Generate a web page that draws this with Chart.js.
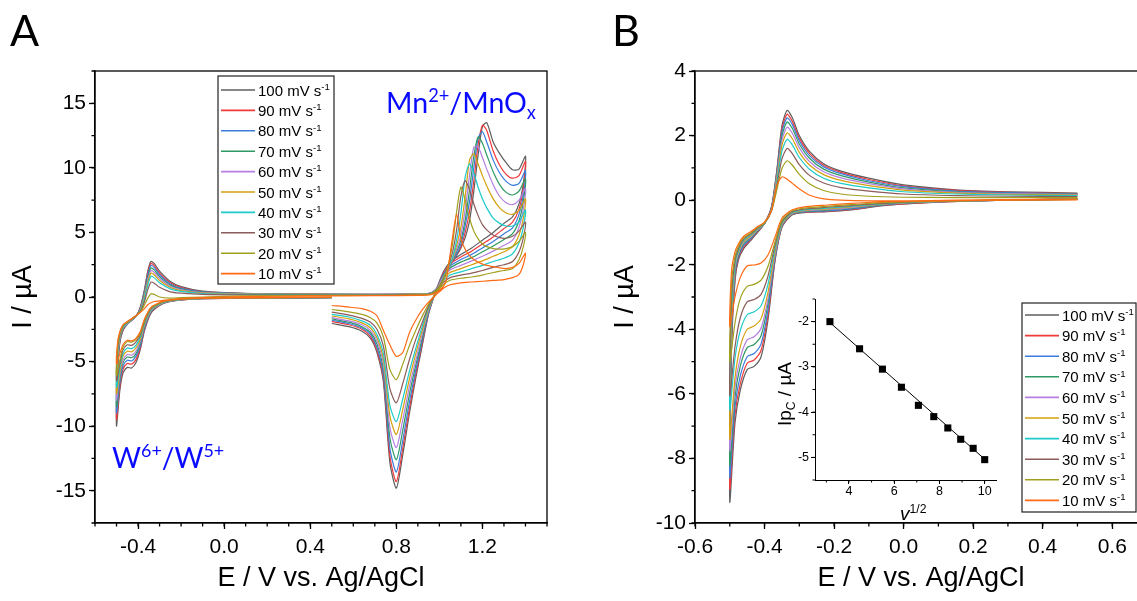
<!DOCTYPE html>
<html>
<head>
<meta charset="utf-8">
<script src="https://cdn.jsdelivr.net/npm/chart.js@4.4.1/dist/chart.umd.min.js"></script>
<style>
  html, body { margin: 0; padding: 0; background: #fff; overflow: hidden; width: 1137px; height: 601px; }
  canvas { position: absolute; }
  #cvA { left: 0; top: 0; }
  #cvB { left: 600px; top: 0; }
  #inset { left: 740px; top: 280px; }
</style>
</head>
<body>
<canvas id="cvA" width="575" height="601"></canvas>
<canvas id="cvB" width="560" height="601"></canvas>
<canvas id="inset" width="270" height="260"></canvas>
<script>
// ── CV data ──
const rates = [100, 90, 80, 70, 60, 50, 40, 30, 20, 10];
const lineColors = ['#5e5e5e', '#f03a3a', '#3a7ddc', '#2f9963', '#b47fe0', '#d4a00c', '#1ccaca', '#8c5b5b', '#a0a01e', '#ff6a14'];

// Panel A: 0.5 V -> -0.5 V -> 1.4 V -> 0.5 V
const potA = [
  0.5, 0.2, -0.1, -0.2, -0.26, -0.3, -0.34, -0.37, -0.39, -0.41, -0.43, -0.45, -0.47, -0.485, -0.5,
  -0.495, -0.485, -0.47, -0.45, -0.43, -0.41, -0.39, -0.37, -0.355, -0.34, -0.325, -0.3, -0.25, -0.2, -0.1, 0.1, 0.4, 0.7, 0.9, 0.96,
  1.0, 1.03, 1.06, 1.08, 1.1, 1.12, 1.14, 1.16, 1.18, 1.2, 1.22, 1.25, 1.28, 1.31, 1.34, 1.37, 1.4,
  1.39, 1.37, 1.34, 1.3, 1.25, 1.2, 1.15, 1.1, 1.05, 1.02, 1.0, 0.98, 0.95, 0.92, 0.89, 0.86, 0.83, 0.8, 0.77, 0.74, 0.71, 0.68, 0.64, 0.58, 0.5
];
const iA100 = [
  -0.05, -0.08, -0.12, -0.22, -0.38, -0.65, -1.25, -2.6, -4.1, -5.1, -5.5, -5.45, -5.9, -7.3, -10.0,
  -6.0, -3.6, -2.6, -2.1, -1.8, -1.5, -0.8, 0.6, 2.0, 2.75, 2.6, 2.0, 1.2, 0.8, 0.45, 0.28, 0.22, 0.2, 0.24, 0.3,
  0.9, 1.9, 2.7, 3.2, 3.8, 4.6, 5.9, 8.2, 11.0, 13.2, 13.5, 12.0, 11.1, 10.4, 9.85, 9.9, 10.9,
  8.8, 7.2, 6.2, 5.7, 5.0, 4.4, 3.8, 3.3, 2.7, 2.0, 1.2, 0.3, -1.3, -3.8, -6.3, -9.1, -12.2, -14.8, -12.8, -6.6, -4.3, -3.2, -2.65, -2.3, -2.05
];
const iA90 = [
  -0.05, -0.08, -0.12, -0.22, -0.37, -0.63, -1.2, -2.5, -3.95, -4.85, -5.2, -5.15, -5.6, -7.0, -9.5,
  -5.7, -3.5, -2.55, -2.1, -1.8, -1.5, -0.85, 0.5, 1.85, 2.6, 2.45, 1.85, 1.1, 0.73, 0.42, 0.27, 0.22, 0.2, 0.24, 0.3,
  0.9, 1.9, 2.7, 3.25, 3.9, 5.0, 6.6, 9.0, 11.8, 13.3, 12.9, 11.3, 10.2, 9.5, 9.2, 9.4, 10.5,
  8.4, 6.8, 5.8, 5.3, 4.65, 4.1, 3.55, 3.1, 2.55, 1.9, 1.15, 0.3, -1.25, -3.6, -6.0, -8.7, -11.7, -14.3, -12.3, -6.3, -4.1, -3.05, -2.5, -2.15, -1.9
];
const iA80 = [
  -0.05, -0.08, -0.12, -0.21, -0.36, -0.61, -1.15, -2.4, -3.8, -4.6, -4.95, -4.9, -5.35, -6.7, -9.0,
  -5.4, -3.4, -2.5, -2.1, -1.8, -1.5, -0.9, 0.4, 1.7, 2.45, 2.3, 1.72, 1.0, 0.67, 0.4, 0.26, 0.21, 0.2, 0.23, 0.3,
  0.9, 1.9, 2.75, 3.3, 4.1, 5.5, 7.4, 10.0, 12.3, 12.8, 12.0, 10.6, 9.6, 8.95, 8.65, 8.8, 9.8,
  7.9, 6.4, 5.35, 4.9, 4.3, 3.8, 3.3, 2.9, 2.4, 1.8, 1.1, 0.3, -1.2, -3.4, -5.7, -8.2, -11.1, -13.55, -11.7, -6.0, -3.9, -2.9, -2.4, -2.05, -1.8
];
const iA70 = [
  -0.05, -0.08, -0.11, -0.21, -0.35, -0.59, -1.1, -2.3, -3.6, -4.4, -4.7, -4.65, -5.1, -6.4, -8.5,
  -5.1, -3.3, -2.45, -2.05, -1.78, -1.5, -0.95, 0.3, 1.5, 2.25, 2.1, 1.58, 0.92, 0.62, 0.37, 0.25, 0.21, 0.19, 0.23, 0.29,
  0.9, 1.9, 2.8, 3.5, 4.4, 6.0, 8.3, 10.9, 12.4, 11.9, 11.0, 9.7, 8.7, 8.1, 7.9, 8.2, 9.15,
  7.4, 5.9, 4.9, 4.45, 3.95, 3.5, 3.05, 2.7, 2.25, 1.7, 1.05, 0.3, -1.1, -3.2, -5.3, -7.6, -10.3, -12.6, -10.9, -5.6, -3.65, -2.75, -2.3, -1.95, -1.7
];
const iA60 = [
  -0.04, -0.07, -0.11, -0.2, -0.34, -0.57, -1.05, -2.2, -3.45, -4.2, -4.5, -4.45, -4.9, -6.1, -8.0,
  -4.8, -3.2, -2.4, -2.05, -1.76, -1.5, -1.0, 0.15, 1.3, 2.05, 1.92, 1.43, 0.83, 0.56, 0.34, 0.24, 0.2, 0.19, 0.22, 0.28,
  0.85, 1.9, 2.85, 3.7, 4.8, 6.8, 9.4, 11.6, 11.6, 10.8, 9.9, 8.7, 7.8, 7.3, 7.15, 7.5, 8.4,
  6.8, 5.4, 4.4, 4.0, 3.55, 3.15, 2.8, 2.45, 2.1, 1.6, 1.0, 0.3, -1.0, -2.9, -4.9, -7.0, -9.5, -11.65, -10.1, -5.2, -3.4, -2.6, -2.15, -1.85, -1.6
];
const iA50 = [
  -0.04, -0.07, -0.1, -0.19, -0.33, -0.55, -1.0, -2.1, -3.3, -3.95, -4.25, -4.2, -4.6, -5.8, -7.5,
  -4.6, -3.1, -2.35, -2.0, -1.74, -1.48, -1.05, 0.0, 1.1, 1.85, 1.72, 1.28, 0.74, 0.5, 0.31, 0.22, 0.2, 0.18, 0.22, 0.27,
  0.85, 1.9, 2.9, 4.0, 5.4, 7.8, 10.6, 11.1, 10.3, 9.4, 8.6, 7.6, 6.9, 6.5, 6.4, 6.7, 7.6,
  6.1, 4.8, 3.9, 3.5, 3.15, 2.8, 2.5, 2.2, 1.9, 1.45, 0.9, 0.25, -0.9, -2.6, -4.4, -6.4, -8.7, -10.65, -9.2, -4.8, -3.15, -2.4, -2.0, -1.7, -1.47
];
const iA40 = [
  -0.04, -0.06, -0.1, -0.18, -0.31, -0.52, -0.95, -2.0, -3.1, -3.75, -4.0, -3.95, -4.4, -5.5, -7.0,
  -4.3, -3.0, -2.3, -2.0, -1.72, -1.46, -1.1, -0.15, 0.9, 1.6, 1.5, 1.1, 0.63, 0.43, 0.27, 0.2, 0.18, 0.17, 0.2, 0.26,
  0.8, 1.85, 3.0, 4.4, 6.5, 9.3, 10.3, 9.6, 8.5, 7.6, 6.9, 6.1, 5.7, 5.5, 5.5, 5.8, 6.75,
  5.4, 4.2, 3.35, 3.0, 2.75, 2.45, 2.2, 1.95, 1.7, 1.3, 0.8, 0.25, -0.8, -2.3, -4.0, -5.8, -7.9, -9.65, -8.4, -4.4, -2.9, -2.2, -1.85, -1.55, -1.35
];
const iA30 = [
  -0.03, -0.06, -0.09, -0.17, -0.29, -0.49, -0.9, -1.9, -2.95, -3.5, -3.75, -3.7, -4.1, -5.2, -6.5,
  -4.0, -2.9, -2.25, -1.95, -1.7, -1.45, -1.15, -0.35, 0.55, 1.15, 1.07, 0.75, 0.4, 0.3, 0.2, 0.16, 0.15, 0.15, 0.18, 0.24,
  0.8, 1.85, 3.4, 5.2, 7.8, 9.0, 8.3, 7.2, 6.3, 5.6, 5.2, 4.8, 4.6, 4.55, 4.7, 5.1, 5.8,
  4.6, 3.5, 2.75, 2.5, 2.3, 2.05, 1.85, 1.7, 1.5, 1.15, 0.7, 0.2, -0.7, -2.0, -3.3, -4.9, -6.7, -8.2, -7.1, -3.8, -2.5, -1.95, -1.65, -1.4, -1.17
];
const iA20 = [
  -0.03, -0.05, -0.08, -0.16, -0.27, -0.46, -0.85, -1.8, -2.8, -3.3, -3.5, -3.45, -3.9, -4.9, -6.1,
  -3.8, -2.8, -2.2, -1.95, -1.7, -1.45, -1.2, -0.6, -0.1, 0.25, 0.2, 0.0, -0.08, -0.05, 0.0, 0.08, 0.12, 0.13, 0.16, 0.22,
  0.75, 1.8, 4.0, 6.6, 8.5, 7.5, 6.1, 5.1, 4.5, 4.1, 3.9, 3.75, 3.7, 3.75, 3.9, 4.3, 5.0,
  3.9, 2.9, 2.2, 2.05, 1.9, 1.7, 1.55, 1.45, 1.3, 1.0, 0.6, 0.2, -0.55, -1.5, -2.6, -3.8, -5.2, -6.4, -5.6, -3.1, -2.0, -1.6, -1.35, -1.15, -0.97
];
const iA10 = [
  -0.02, -0.05, -0.08, -0.15, -0.25, -0.43, -0.8, -1.7, -2.7, -3.2, -3.4, -3.35, -3.7, -4.4, -5.2,
  -3.5, -2.7, -2.15, -1.9, -1.68, -1.45, -1.2, -0.9, -0.6, -0.45, -0.35, -0.3, -0.2, -0.12, -0.05, 0.03, 0.08, 0.1, 0.13, 0.18,
  0.5, 1.2, 4.5, 6.4, 4.5, 3.7, 3.2, 2.9, 2.7, 2.55, 2.45, 2.35, 2.25, 2.2, 2.3, 2.6, 3.4,
  2.5, 1.75, 1.5, 1.35, 1.28, 1.22, 1.16, 1.1, 0.95, 0.7, 0.4, 0.1, -0.4, -1.0, -1.8, -2.8, -4.3, -4.6, -3.7, -2.6, -1.45, -1.1, -0.9, -0.78, -0.66
];
const curA = [iA100, iA90, iA80, iA70, iA60, iA50, iA40, iA30, iA20, iA10];

// Panel B: 0.5 V -> -0.5 V -> 0.5 V
const potB = [
  0.5, 0.3, 0.1, -0.05, -0.15, -0.22, -0.28, -0.32, -0.35, -0.37, -0.39, -0.41, -0.43, -0.45, -0.47, -0.485, -0.5,
  -0.495, -0.485, -0.475, -0.46, -0.44, -0.42, -0.4, -0.38, -0.365, -0.35, -0.335,
  -0.32, -0.3, -0.27, -0.23, -0.18, -0.1, 0.0, 0.15, 0.3, 0.5
];
const iB100 = [
  0.05, 0.0, -0.06, -0.16, -0.3, -0.36, -0.38, -0.45, -0.85, -1.9, -3.7, -4.85, -5.15, -5.25, -5.9, -6.9, -9.35,
  -4.6, -2.5, -1.85, -1.5, -1.25, -1.0, -0.72, -0.2, 0.9, 2.3, 2.78,
  2.55, 2.0, 1.5, 1.13, 0.9, 0.68, 0.47, 0.32, 0.26, 0.22
];
const iB90 = [
  0.05, 0.0, -0.06, -0.15, -0.29, -0.35, -0.37, -0.44, -0.82, -1.85, -3.55, -4.65, -4.95, -5.05, -5.7, -6.65, -8.95,
  -4.4, -2.4, -1.8, -1.45, -1.22, -0.98, -0.72, -0.22, 0.85, 2.2, 2.66,
  2.44, 1.92, 1.44, 1.08, 0.86, 0.64, 0.44, 0.3, 0.24, 0.2
];
const iB80 = [
  0.04, 0.0, -0.05, -0.14, -0.27, -0.33, -0.36, -0.43, -0.8, -1.8, -3.4, -4.45, -4.75, -4.85, -5.45, -6.4, -8.6,
  -4.2, -2.3, -1.75, -1.4, -1.2, -0.96, -0.72, -0.24, 0.8, 2.1, 2.55,
  2.34, 1.84, 1.37, 1.03, 0.82, 0.6, 0.42, 0.28, 0.23, 0.19
];
const iB70 = [
  0.04, 0.0, -0.05, -0.13, -0.25, -0.31, -0.35, -0.42, -0.78, -1.75, -3.2, -4.2, -4.47, -4.57, -5.15, -6.1, -8.2,
  -4.0, -2.2, -1.7, -1.35, -1.17, -0.94, -0.72, -0.26, 0.75, 1.98, 2.42,
  2.22, 1.74, 1.29, 0.96, 0.76, 0.56, 0.38, 0.26, 0.21, 0.18
];
const iB60 = [
  0.04, 0.0, -0.05, -0.12, -0.23, -0.29, -0.33, -0.41, -0.76, -1.7, -3.05, -3.97, -4.23, -4.33, -4.9, -5.8, -7.75,
  -3.8, -2.1, -1.65, -1.3, -1.14, -0.92, -0.72, -0.28, 0.68, 1.85, 2.26,
  2.07, 1.62, 1.19, 0.88, 0.69, 0.51, 0.35, 0.24, 0.2, 0.17
];
const iB50 = [
  0.03, 0.0, -0.04, -0.11, -0.21, -0.27, -0.31, -0.4, -0.74, -1.6, -2.85, -3.67, -3.9, -4.0, -4.55, -5.5, -7.4,
  -3.6, -2.0, -1.6, -1.27, -1.11, -0.9, -0.72, -0.3, 0.6, 1.7, 2.08,
  1.9, 1.48, 1.08, 0.79, 0.61, 0.45, 0.31, 0.22, 0.18, 0.16
];
const iB40 = [
  0.03, 0.0, -0.04, -0.1, -0.19, -0.25, -0.29, -0.38, -0.71, -1.5, -2.6, -3.27, -3.46, -3.55, -4.05, -4.9, -6.5,
  -3.3, -1.95, -1.55, -1.24, -1.08, -0.88, -0.72, -0.32, 0.52, 1.52, 1.88,
  1.71, 1.32, 0.95, 0.68, 0.52, 0.38, 0.26, 0.19, 0.16, 0.14
];
const iB30 = [
  0.02, 0.0, -0.03, -0.09, -0.17, -0.22, -0.27, -0.36, -0.67, -1.4, -2.35, -2.92, -3.08, -3.15, -3.65, -4.55, -6.05,
  -3.0, -1.85, -1.5, -1.2, -1.05, -0.86, -0.71, -0.33, 0.42, 1.28, 1.6,
  1.44, 1.1, 0.76, 0.53, 0.39, 0.28, 0.19, 0.14, 0.12, 0.11
];
const iB20 = [
  0.02, 0.0, -0.03, -0.07, -0.14, -0.19, -0.24, -0.33, -0.62, -1.3, -2.05, -2.48, -2.61, -2.67, -3.05, -3.8, -5.0,
  -2.6, -1.75, -1.42, -1.16, -1.02, -0.84, -0.7, -0.33, 0.3, 0.98, 1.22,
  1.08, 0.8, 0.5, 0.3, 0.19, 0.12, 0.09, 0.08, 0.08, 0.08
];
const iB10 = [
  0.01, 0.0, -0.02, -0.05, -0.1, -0.15, -0.2, -0.3, -0.56, -1.15, -1.7, -1.95, -2.01, -2.04, -2.4, -3.0, -3.92,
  -2.2, -1.6, -1.35, -1.12, -0.98, -0.82, -0.68, -0.32, 0.45, 0.72, 0.65,
  0.52, 0.35, 0.15, 0.04, 0.0, -0.02, -0.02, 0.0, 0.02, 0.03
];
const curB = [iB100, iB90, iB80, iB70, iB60, iB50, iB40, iB30, iB20, iB10];

// inset: cathodic peak current vs sqrt(scan rate)
const sqrtRate = [3.16, 4.47, 5.48, 6.32, 7.07, 7.75, 8.37, 8.94, 9.49, 10.0];
const ipc = [-2.0, -2.6, -3.05, -3.45, -3.85, -4.1, -4.35, -4.6, -4.8, -5.05];
const fitX = [3.16, 10.0];
const fitY = [-2.02, -5.04];

// tick labels
const xTicksA = [-0.4, 0, 0.4, 0.8, 1.2];
const yTicksA = [-15, -10, -5, 0, 5, 10, 15];
const xTicksB = [-0.6, -0.4, -0.2, 0, 0.2, 0.4, 0.6];
const yTicksB = [-10, -8, -6, -4, -2, 0, 2, 4];
const xTicksIn = [4, 6, 8, 10];
const yTicksIn = [-5, -4, -3, -2];

// ── helpers ──
const fontSans = '"Liberation Sans", Arial, sans-serif';
const fontCal = 'Lato, "Open Sans", sans-serif';

// draws text with super/subscripts; parts = [[text, mode]], mode: '', 'sup', 'sub', 'it'
function rich(ctx, x, y, parts, size, family, color, center, rot) {
  ctx.save();
  ctx.fillStyle = color;
  ctx.textBaseline = 'alphabetic';
  ctx.textAlign = 'left';
  const items = parts.map(p => {
    const mode = p[1] || '';
    const small = mode === 'sup' || mode === 'sub';
    const fs = small ? size * 0.64 : size;
    const font = (mode === 'it' ? 'italic ' : '') + fs + 'px ' + family;
    ctx.font = font;
    return { t: p[0], mode, font, w: ctx.measureText(p[0]).width };
  });
  const total = items.reduce((s, it) => s + it.w, 0);
  ctx.translate(x, y);
  if (rot) ctx.rotate(rot);
  let cx = center ? -total / 2 : 0;
  for (const it of items) {
    ctx.font = it.font;
    let dy = 0;
    if (it.mode === 'sup') dy = -size * 0.38;
    if (it.mode === 'sub') dy = size * 0.22;
    ctx.fillText(it.t, cx, dy);
    cx += it.w;
  }
  ctx.restore();
}

function legendBox(ctx, x, y, w, h, first, rowH) {
  ctx.save();
  ctx.fillStyle = '#fff';
  ctx.fillRect(x, y, w, h);
  ctx.strokeStyle = '#222';
  ctx.lineWidth = 1.2;
  ctx.strokeRect(x, y, w, h);
  rates.forEach((r, i) => {
    const cy = y + first + i * rowH;
    ctx.strokeStyle = lineColors[i];
    ctx.lineWidth = 1.6;
    ctx.beginPath();
    ctx.moveTo(x + 3, cy);
    ctx.lineTo(x + 37, cy);
    ctx.stroke();
    rich(ctx, x + 40, cy + 5.5, [[r + ' mV s'], ['-1', 'sup']], 15, fontSans, '#000');
  });
  ctx.restore();
}

// box + minor ticks
const frame = {
  id: 'frame',
  afterDraw(chart, args, opts) {
    const { ctx, chartArea: a, scales } = chart;
    ctx.save();
    ctx.strokeStyle = '#000';
    ctx.lineWidth = opts.width;
    if (opts.box) ctx.strokeRect(a.left, a.top, a.right - a.left, a.bottom - a.top);
    ctx.beginPath();
    for (const [id, step] of Object.entries(opts.minor)) {
      const s = scales[id];
      for (let k = Math.ceil(s.min / step - 1e-6); k * step <= s.max + 1e-6; k++) {
        const p = s.getPixelForValue(k * step);
        if (s.isHorizontal()) { ctx.moveTo(p, a.bottom); ctx.lineTo(p, a.bottom + opts.len); }
        else { ctx.moveTo(a.left, p); ctx.lineTo(a.left - opts.len, p); }
      }
    }
    ctx.stroke();
    ctx.restore();
  }
};

function axis(horiz, min, max, majors, fmt, size, tick, pad, fontSize, title, tpad) {
  return {
    type: 'linear', min, max,
    afterBuildTicks: s => { s.ticks = majors.map(v => ({ value: v })); },
    afterFit: s => { if (horiz) s.height = size; else s.width = size; },
    ticks: { color: '#000', font: { family: fontSans, size: fontSize }, padding: pad, autoSkip: false, maxRotation: 0, callback: v => fmt(v) },
    grid: { drawOnChartArea: false, drawTicks: true, tickLength: tick, tickColor: '#000', tickWidth: 1.3 },
    border: { display: true, color: '#000', width: 1.3 },
    title: title ? { display: true, text: title, color: '#000', font: { family: fontSans, size: 27 }, padding: tpad } : { display: false }
  };
}

function cvSets(pot, curs) {
  return curs.map((c, i) => ({
    label: rates[i] + ' mV s-1',
    data: pot.map((e, k) => ({ x: e, y: c[k] })),
    borderColor: lineColors[i],
    borderWidth: 1.2,
    pointRadius: 0,
    tension: 0.25,
    fill: false,
    order: rates.length - i
  }));
}

const baseOpts = {
  responsive: false, animation: false, events: [],
};

// ── Panel A ──
new Chart(document.getElementById('cvA'), {
  type: 'line',
  data: { datasets: cvSets(potA, curA) },
  options: {
    ...baseOpts,
    layout: { padding: { left: 0, top: 71, right: 28, bottom: 0 } },
    plugins: {
      legend: { display: false }, tooltip: { enabled: false },
      frame: { box: true, width: 1.3, len: 3.5, minor: { x: 0.1, y: 2.5 } }
    },
    scales: {
      x: axis(true, -0.6, 1.5, xTicksA, v => v.toFixed(1), 78, 6, 6, 21, 'E / V vs. Ag/AgCl', { bottom: 6 }),
      y: axis(false, -17.5, 17.5, yTicksA, v => String(v), 95, 6, 3, 21, 'I / µA', { top: 7 })
    }
  },
  plugins: [frame, {
    id: 'notesA',
    afterDraw(chart) {
      const ctx = chart.ctx;
      rich(ctx, 10, 46, [['A']], 43, fontCal, '#000');
      rich(ctx, 386, 113, [['Mn'], ['2+', 'sup'], ['/MnO'], ['x', 'sub']], 28.5, fontCal, '#0a0aff');
      rich(ctx, 112, 468, [['W'], ['6+', 'sup'], ['/W'], ['5+', 'sup']], 28, fontCal, '#0a0aff');
      legendBox(ctx, 218, 76, 116, 208, 14, 20.4);
    }
  }]
});

// ── Panel B ──
new Chart(document.getElementById('cvB'), {
  type: 'line',
  data: { datasets: cvSets(potB, curB) },
  options: {
    ...baseOpts,
    layout: { padding: { left: 0, top: 71, right: 13, bottom: 0 } },
    plugins: {
      legend: { display: false }, tooltip: { enabled: false },
      frame: { box: true, width: 1.3, len: 3.5, minor: { x: 0.1, y: 1 } }
    },
    scales: {
      x: axis(true, -0.6, 0.7, xTicksB, v => v.toFixed(1), 78, 6, 6, 21, 'E / V vs. Ag/AgCl', { bottom: 6 }),
      y: axis(false, -10, 4, yTicksB, v => String(v), 95, 6, 3, 21, 'I / µA', { top: 9 })
    }
  },
  plugins: [frame, {
    id: 'notesB',
    afterDraw(chart) {
      const ctx = chart.ctx;
      rich(ctx, 12, 46, [['B']], 43, fontCal, '#000');
      legendBox(ctx, 422, 303, 114, 209, 12, 20.6);
    }
  }]
});

// ── Inset ──
new Chart(document.getElementById('inset'), {
  type: 'scatter',
  data: {
    datasets: [
      {
        data: sqrtRate.map((v, i) => ({ x: v, y: ipc[i] })),
        pointStyle: 'rect', pointRadius: 5, backgroundColor: '#000', borderColor: '#000', borderWidth: 0,
        order: 1
      },
      {
        data: fitX.map((v, i) => ({ x: v, y: fitY[i] })),
        showLine: true, pointRadius: 0, borderColor: '#000', borderWidth: 1,
        order: 2
      }
    ]
  },
  options: {
    ...baseOpts,
    layout: { padding: { left: 0, top: 19, right: 14, bottom: 0 } },
    plugins: {
      legend: { display: false }, tooltip: { enabled: false },
      frame: { box: false, width: 1, len: 2.5, minor: { x: 1, y: 0.5 } }
    },
    scales: {
      x: {
        ...axis(true, 2.5, 10.5, xTicksIn, v => String(v), 60, 4, 0, 12.5, null),
        grid: { drawOnChartArea: false, tickLength: 4, tickColor: '#000', tickWidth: 1 },
        border: { display: true, color: '#000', width: 1 }
      },
      y: {
        ...axis(false, -5.5, -1.5, yTicksIn, v => String(v), 75, 4, 2, 12.5, null),
        grid: { drawOnChartArea: false, tickLength: 4, tickColor: '#000', tickWidth: 1 },
        border: { display: true, color: '#000', width: 1 }
      }
    }
  },
  plugins: [frame, {
    id: 'notesIn',
    afterDraw(chart) {
      const ctx = chart.ctx;
      rich(ctx, 51, 114, [['Ip'], ['C', 'sub'], [' / µA']], 19, fontSans, '#000', true, -Math.PI / 2);
      rich(ctx, 160, 240, [['v', 'it'], ['1/2', 'sup']], 19, fontSans, '#000');
    }
  }]
});
</script>
</body>
</html>
